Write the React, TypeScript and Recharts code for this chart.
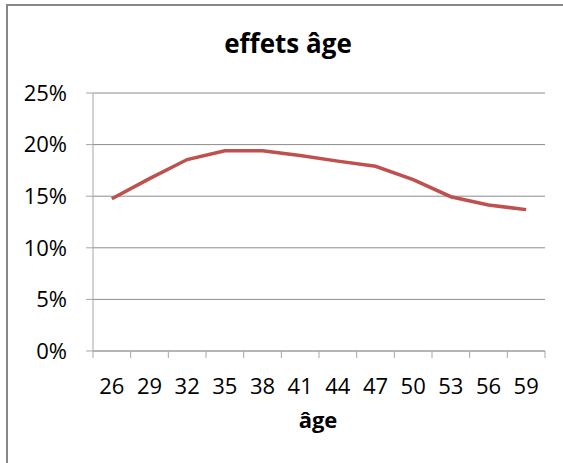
import React from 'react';
import { LineChart, Line, XAxis, YAxis, CartesianGrid } from 'recharts';

const ages: string[] = ['26', '29', '32', '35', '38', '41', '44', '47', '50', '53', '56', '59'];
const effets: number[] = [14.75, 16.7, 18.55, 19.4, 19.4, 18.95, 18.4, 17.9, 16.6, 14.95, 14.15, 13.7];
const yTicks: number[] = [0, 5, 10, 15, 20, 25];

const data = ages.map((a, i) => ({ age: a, effet: effets[i] }));

const W = 563;
const H = 463;
const M = { top: 93, right: 18, left: 0, bottom: 0 };
const Y_W = 93;
const X_H = 112;
const PLOT_W = W - M.left - M.right - Y_W;
const BAND = PLOT_W / ages.length;
const FONT = '"Open Sans", "DejaVu Sans", sans-serif';
const AXIS_COLOR = '#A6A6A6';
const GRID_COLOR = '#8C8C8C';

const XTick = (props: any) => {
  const { x, payload, index } = props;
  const axisY = H - X_H - M.bottom;
  const left = x - BAND / 2;
  const right = x + BAND / 2;
  return (
    <g>
      <line x1={left} x2={left} y1={axisY} y2={axisY + 7} stroke={AXIS_COLOR} strokeWidth={1} />
      {index === ages.length - 1 && (
        <line x1={right} x2={right} y1={axisY} y2={axisY + 7} stroke={AXIS_COLOR} strokeWidth={1} />
      )}
      <text x={x} y={axisY + 42.5} textAnchor="middle" fontSize={22} fontFamily={FONT} fill="#000">
        {payload.value}
      </text>
    </g>
  );
};

export default function App() {
  return (
    <div style={{ position: 'absolute', left: 0, top: 0, width: W, height: H, overflow: 'hidden', background: '#fff' }}>
      <div
        style={{
          position: 'absolute',
          left: 6,
          top: 4,
          width: 700,
          height: 700,
          border: '2px solid #878787',
          boxSizing: 'border-box',
        }}
      />
      <svg width={W} height={H} style={{ position: 'absolute', left: 0, top: 0 }}>
        <text x={288} y={53} textAnchor="middle" fontSize={26} fontWeight="bold" fontFamily={FONT} fill="#000">
          effets âge
        </text>
        <text x={318} y={428} textAnchor="middle" fontSize={22} fontWeight="bold" fontFamily={FONT} fill="#000">
          âge
        </text>
      </svg>
      <div style={{ position: 'absolute', left: 0, top: 0 }}>
        <LineChart width={W} height={H} data={data} margin={M}>
          <CartesianGrid vertical={false} stroke={GRID_COLOR} strokeWidth={1} />
          <XAxis
            dataKey="age"
            height={X_H}
            stroke={AXIS_COLOR}
            tickLine={false}
            interval={0}
            padding={{ left: BAND / 2, right: BAND / 2 }}
            tick={<XTick />}
          />
          <YAxis
            width={Y_W}
            domain={[0, 25]}
            ticks={yTicks}
            interval={0}
            tickFormatter={(v: number) => `${v}%`}
            stroke={AXIS_COLOR}
            tickSize={7}
            tickMargin={19}
            tick={{ fill: '#000', fontSize: 22, fontFamily: FONT }}
          />
          <Line
            type="linear"
            dataKey="effet"
            stroke="#C0504D"
            strokeWidth={3.5}
            dot={false}
            isAnimationActive={false}
          />
        </LineChart>
      </div>
    </div>
  );
}
